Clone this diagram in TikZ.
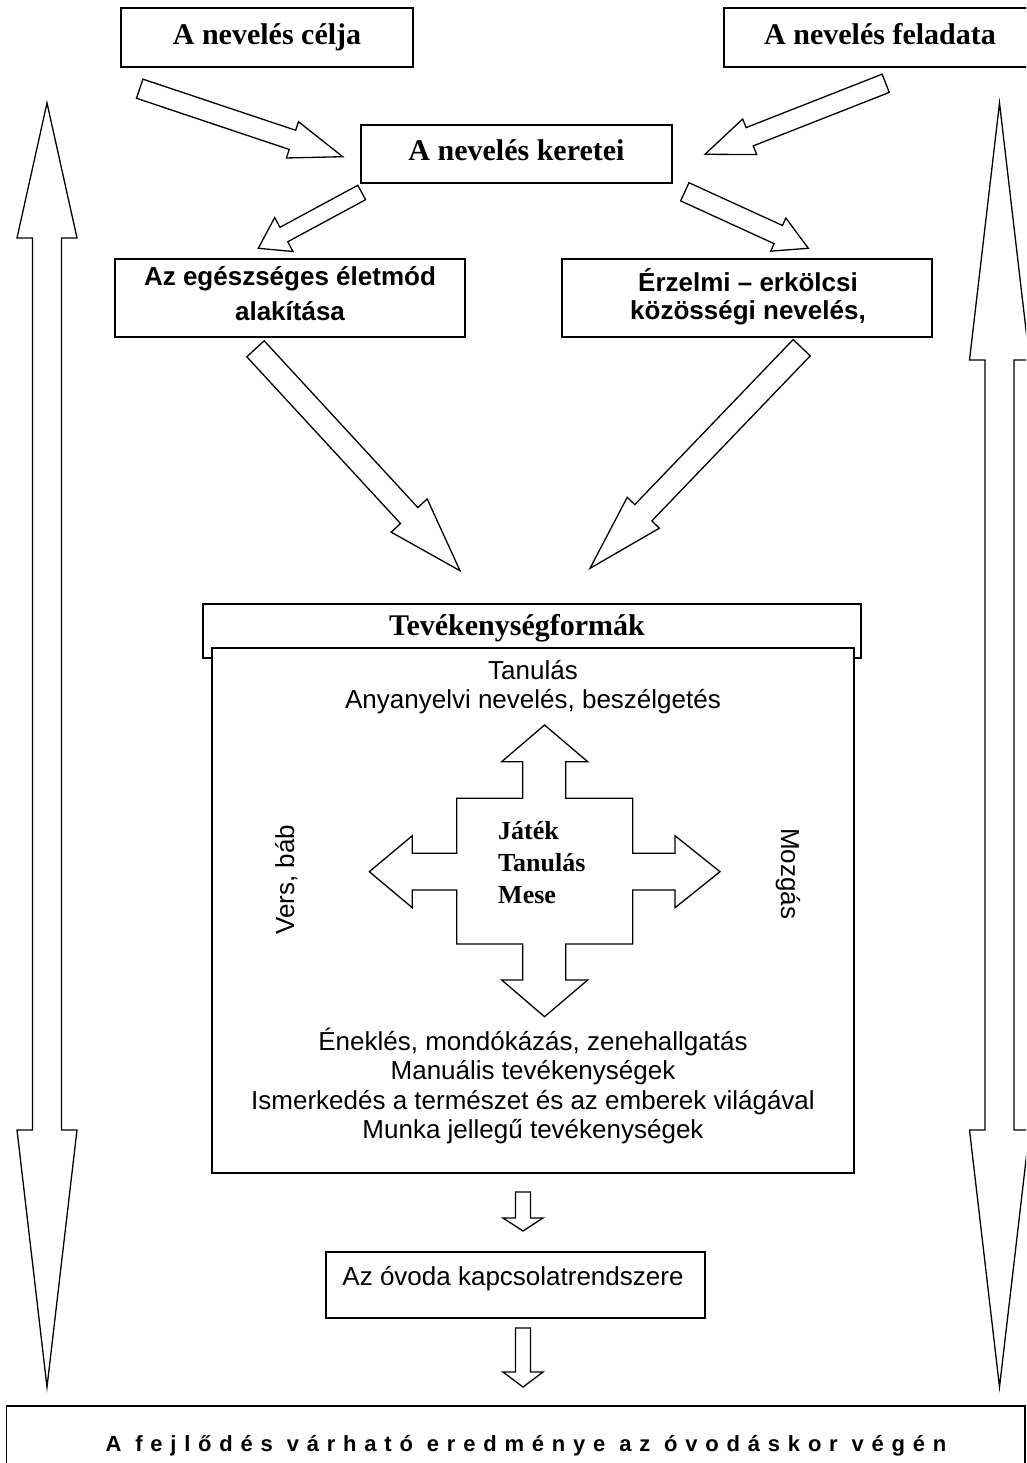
\documentclass[tikz,border=0pt]{standalone}
\usepackage{fontspec}
\setmainfont{Liberation Serif}
\setsansfont{Liberation Sans}
\newfontfamily\spacedfont[LetterSpace=35.4]{Liberation Sans}
\usetikzlibrary{calc}
% block arrow: #1 start, #2 tip, #3 half shaft width, #4 half head width, #5 head length
\newcommand\blockarr[5]{%
  \coordinate (#1-#2-h) at ($(#2)!#5!(#1)$);
  \draw[barrow] ($(#1)!#3!90:(#2)$) -- ($(#1-#2-h)!#3!90:(#2)$) -- ($(#1-#2-h)!#4!90:(#2)$)
    -- (#2) -- ($(#1-#2-h)!#4!-90:(#2)$) -- ($(#1-#2-h)!#3!-90:(#2)$) -- ($(#1)!#3!-90:(#2)$) -- cycle;
}
\begin{document}
\begin{tikzpicture}[x=1pt,y=-1pt,line join=miter,
  box/.style={draw,line width=1.4pt,inner sep=0pt,fill=white},
  barrow/.style={draw,line width=1.3pt,fill=white},
  hfont/.style={font=\fontsize{30}{36}\selectfont\bfseries,text height=20pt,text depth=6pt},
  lbl/.style={inner sep=0pt,anchor=base,align=center},
  afont/.style={font=\sffamily\fontsize{26}{29.5}\selectfont},
  abfont/.style={font=\sffamily\bfseries\fontsize{26}{35}\selectfont}]
\useasboundingbox (0,0) rectangle (1026,1463);
\clip (0,0) rectangle (1026,1463);

% big double arrows at the sides
\draw[barrow] (47,103) -- (77,238) -- (61.5,238) -- (61.5,1130) -- (77,1130) -- (47,1387)
  -- (17,1130) -- (32.5,1130) -- (32.5,238) -- (17,238) -- cycle;
\draw[barrow] (999.5,103) -- (1029.5,360) -- (1014,360) -- (1014,1130) -- (1029.5,1130) -- (999.5,1387)
  -- (969.5,1130) -- (985,1130) -- (985,360) -- (969.5,360) -- cycle;

% top boxes
\node[box,hfont,minimum width=292pt,minimum height=59pt] (celja) at (267,37.5) {A nevelés célja};
\node[box,hfont,minimum width=312pt,minimum height=59pt] (feladata) at (880,37.5) {A nevelés feladata};
\node[box,hfont,minimum width=311pt,minimum height=58pt] (keretei) at (516.5,154) {A nevelés keretei};
\node[box,minimum width=350pt,minimum height=78pt] (egeszseg) at (290,298) {};
\node[lbl,abfont] (egeszsegtxt) at (290,320) {Az egészséges életmód\\alakítása};
\node[box,minimum width=370pt,minimum height=78pt] (erzelmi) at (747,298) {};
\node[lbl,font=\sffamily\bfseries\fontsize{26}{27.5}\selectfont] (erzelmitxt) at (748,319) {Érzelmi – erkölcsi\\közösségi nevelés,};

% block arrows between boxes
\coordinate (aS) at (139.7,88.7);  \coordinate (aE) at (342.7,156.7);
\coordinate (bS) at (885.7,83.3);  \coordinate (bE) at (705,154.3);
\coordinate (cS) at (361.7,192.5); \coordinate (cE) at (258.3,248.3);
\coordinate (dS) at (684.8,191.8); \coordinate (dE) at (808.3,248.3);
\coordinate (eS) at (255.5,348.8); \coordinate (eE) at (460,570.7);
\coordinate (fS) at (801.7,347.7); \coordinate (fE) at (590,568.3);
\blockarr{aS}{aE}{10.1pt}{19.1pt}{53pt}
\blockarr{bS}{bE}{9.8pt}{19.1pt}{48pt}
\blockarr{cS}{cE}{8.2pt}{19.3pt}{29pt}
\blockarr{dS}{dE}{10pt}{18.2pt}{33pt}
\blockarr{eS}{eE}{11.8pt}{24.5pt}{75pt}
\blockarr{fS}{fE}{11.8pt}{22.3pt}{77pt}

% Tevekenysegformak
\node[box,minimum width=658pt,minimum height=54pt] (tevhead) at (532,631) {};
\node[lbl,font=\fontsize{30}{36}\selectfont\bfseries] (tevtxt) at (517,635) {Tevékenységformák};
\node[box,minimum width=642pt,minimum height=525pt] (inner) at (533,910.5) {};

% four-way arrow
\draw[barrow] (544.5,725) -- (587.7,761.7) -- (565.7,761.7) -- (565.7,798.3) -- (632.7,798.3)
  -- (632.7,853.3) -- (675,853.3) -- (675,835.7) -- (720,871.7) -- (675,907.7) -- (675,890)
  -- (632.7,890) -- (632.7,944) -- (565.7,944) -- (565.7,980) -- (587.7,980) -- (544.5,1016.7)
  -- (501.7,980) -- (522.7,980) -- (522.7,944) -- (456.7,944) -- (456.7,890) -- (412.3,890)
  -- (412.3,907.7) -- (369.3,871.7) -- (412.3,835.7) -- (412.3,853.3) -- (456.7,853.3)
  -- (456.7,798.3) -- (522.7,798.3) -- (522.7,761.7) -- (501.7,761.7) -- cycle;
\node[inner sep=0pt,anchor=base west,align=left,font=\fontsize{26}{32}\selectfont\bfseries] (jtm) at (498,903) {Játék\\Tanulás\\Mese};

\node[lbl,font=\sffamily\fontsize{26}{28.3}\selectfont] (toptxt) at (533,708) {Tanulás\\Anyanyelvi nevelés, beszélgetés};
\node[lbl,afont] (bottxt) at (533,1138.5) {Éneklés, mondókázás, zenehallgatás\\Manuális tevékenységek\\Ismerkedés a természet és az emberek világával\\Munka jellegű tevékenységek};
\node[inner sep=0pt,anchor=base west,rotate=90,afont] (vers) at (294,935) {Vers, báb};
\node[inner sep=0pt,anchor=base west,rotate=-90,afont] (mozgas) at (781,828) {Mozgás};

% lower part
\node[box,minimum width=379pt,minimum height=66pt] (kapcs) at (515.5,1285) {};
\node[lbl,afont] (kapcstxt) at (513,1285) {Az óvoda kapcsolatrendszere};
\node[box,minimum width=1018.5pt,minimum height=74pt] (eredm) at (515.75,1443) {};
\node[lbl,font=\spacedfont\bfseries\fontsize{22}{26}\selectfont] (eredmtxt) at (526,1451) {A fejlődés várható eredménye az óvodáskor végén};

\coordinate (s1S) at (523,1192); \coordinate (s1E) at (523,1231);
\coordinate (s2S) at (523,1328); \coordinate (s2E) at (523,1387);
\blockarr{s1S}{s1E}{7.5pt}{20pt}{13pt}
\blockarr{s2S}{s2E}{7.5pt}{20pt}{15pt}
\end{tikzpicture}
\end{document}
